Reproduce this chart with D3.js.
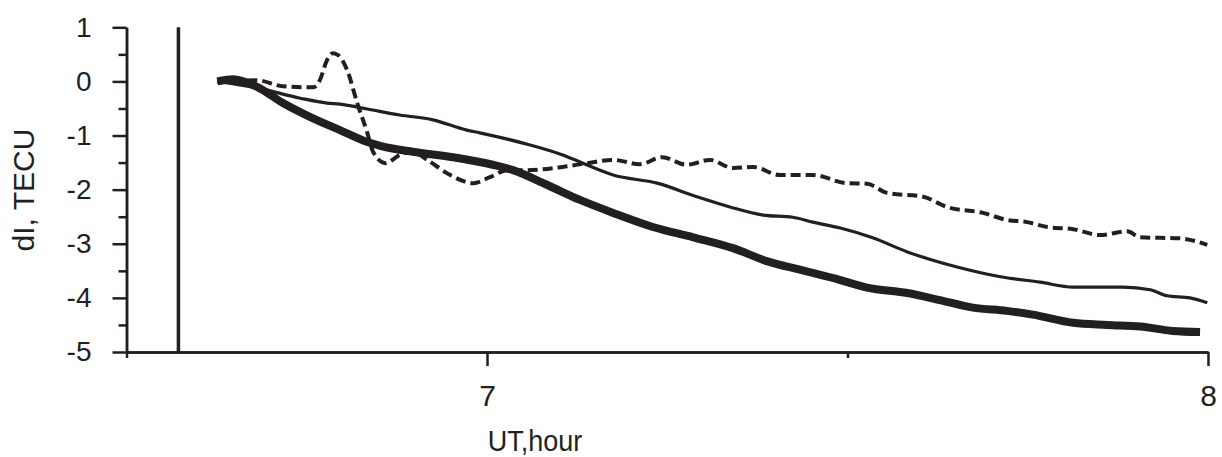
<!DOCTYPE html>
<html>
<head>
<meta charset="utf-8">
<script src="https://cdn.jsdelivr.net/npm/d3@7"></script>
<style>
  body { margin: 0; background: #fff; }
  svg { display: block; }
</style>
</head>
<body>
<svg id="chart" width="1222" height="457"></svg>
<script>
// values, time in UT hours, dI in TECU
var thickT = [6.626,6.648,6.681,6.717,6.755,6.796,6.834,6.852,6.897,6.953,7.008,7.036,7.083,7.129,7.175,7.230,7.286,7.341,7.388,7.434,7.490,7.527,7.583,7.628,7.674,7.721,7.757,7.813,7.860,7.906,7.951,7.989];
var thickV = [0.0,0.04,-0.10,-0.40,-0.66,-0.90,-1.12,-1.19,-1.30,-1.40,-1.54,-1.64,-1.91,-2.19,-2.43,-2.69,-2.88,-3.08,-3.32,-3.48,-3.67,-3.81,-3.91,-4.04,-4.18,-4.24,-4.31,-4.46,-4.50,-4.53,-4.61,-4.63];

var thinT = [6.626,6.681,6.741,6.778,6.796,6.834,6.879,6.925,6.972,6.990,7.050,7.105,7.129,7.175,7.236,7.291,7.337,7.383,7.424,7.452,7.490,7.535,7.583,7.652,7.712,7.767,7.813,7.882,7.920,7.943,7.975,7.999];
var thinV = [0.0,-0.12,-0.31,-0.40,-0.42,-0.51,-0.62,-0.71,-0.90,-0.95,-1.14,-1.36,-1.49,-1.73,-1.88,-2.13,-2.32,-2.47,-2.51,-2.60,-2.71,-2.89,-3.15,-3.43,-3.61,-3.71,-3.80,-3.80,-3.85,-3.96,-4.00,-4.09];

var dashT = [6.626,6.681,6.717,6.759,6.768,6.778,6.786,6.793,6.806,6.820,6.834,6.842,6.859,6.879,6.897,6.917,6.949,6.981,7.004,7.028,7.056,7.105,7.139,7.175,7.212,7.243,7.277,7.309,7.341,7.369,7.406,7.452,7.499,7.527,7.555,7.605,7.638,7.688,7.721,7.749,7.777,7.813,7.850,7.888,7.906,7.961,7.999];
var dashV = [-0.01,0.02,-0.09,-0.11,0.02,0.39,0.52,0.49,0.21,-0.40,-0.95,-1.30,-1.51,-1.36,-1.30,-1.45,-1.73,-1.88,-1.77,-1.64,-1.64,-1.58,-1.51,-1.45,-1.53,-1.40,-1.54,-1.45,-1.60,-1.58,-1.73,-1.73,-1.88,-1.89,-2.06,-2.13,-2.32,-2.43,-2.56,-2.60,-2.69,-2.73,-2.84,-2.77,-2.88,-2.90,-3.02];

var eventT = 6.572;
var yTicks = [-5,-4,-3,-2,-1,0,1];
var yMinor = [-4.5,-3.5,-2.5,-1.5,-0.5,0.5];
var xTicks = [7,8];
var xMinor = [6.5,7.5];

var ink = "#231f20";
var font = "'Liberation Sans', Arial, sans-serif";
var svg = d3.select("#chart");

var x = d3.scaleLinear().domain([6.5, 8]).range([126.5, 1208]);
var y = d3.scaleLinear().domain([-5, 1]).range([352, 27.3]);

function zip(t, v){
  return t.map(function(d, i){ return [d, v[i]]; });
}
function plain(d){ return String(d); } // keep hyphen minus like the source

var line = d3.line()
  .x(function(d){ return x(d[0]); })
  .y(function(d){ return y(d[1]); })
  .curve(d3.curveMonotoneX);

// event marker
svg.append("line")
  .attr("x1", x(eventT)).attr("x2", x(eventT))
  .attr("y1", y(1)).attr("y2", y(-5))
  .attr("stroke", ink).attr("stroke-width", 3.5);

var series = [
  {data: zip(dashT, dashV), w: 4, dash: "10,5"},
  {data: zip(thinT, thinV), w: 3.2, dash: null},
  {data: zip(thickT, thickV), w: 8, dash: null}
];

svg.selectAll("path.series")
  .data(series)
  .enter()
  .append("path")
  .attr("class", "series")
  .attr("d", function(d){ return line(d.data); })
  .attr("fill", "none")
  .attr("stroke", ink)
  .attr("stroke-width", function(d){ return d.w; })
  .attr("stroke-dasharray", function(d){ return d.dash; })
  .attr("stroke-linejoin", "round");

// y axis
svg.append("g")
  .attr("transform", "translate(126.5,0)")
  .call(d3.axisLeft(y).tickValues(yMinor).tickSize(8).tickSizeOuter(0).tickFormat(""));
var yAxisG = svg.append("g")
  .attr("transform", "translate(126.5,0)")
  .call(d3.axisLeft(y).tickValues(yTicks).tickSize(14).tickSizeOuter(0).tickPadding(21).tickFormat(plain));

// x axis
svg.append("g")
  .attr("transform", "translate(0,352)")
  .call(d3.axisBottom(x).tickValues(xMinor).tickSize(6).tickSizeOuter(0).tickFormat(""));
var xAxisG = svg.append("g")
  .attr("transform", "translate(0,352)")
  .call(d3.axisBottom(x).tickValues(xTicks).tickSize(14).tickSizeOuter(0).tickPadding(19).tickFormat(plain));

svg.selectAll(".domain, .tick line")
  .attr("stroke", ink).attr("stroke-width", 2.5);

yAxisG.selectAll("text")
  .attr("fill", ink)
  .style("font-family", font)
  .style("font-size", "28px");
xAxisG.selectAll("text")
  .attr("fill", ink)
  .style("font-family", font)
  .style("font-size", "30px");

// titles
svg.append("text")
  .attr("transform", "translate(535,451) scale(0.9,1)")
  .attr("text-anchor", "middle")
  .attr("fill", ink)
  .style("font-family", font)
  .style("font-size", "30px")
  .text("UT,hour");

svg.append("text")
  .attr("transform", "translate(34,190) rotate(-90)")
  .attr("text-anchor", "middle")
  .attr("fill", ink)
  .style("font-family", font)
  .style("font-size", "30px")
  .text("dI, TECU");
</script>
</body>
</html>
